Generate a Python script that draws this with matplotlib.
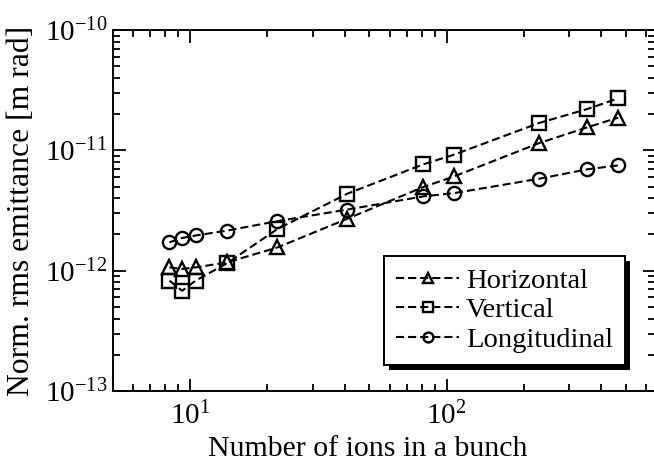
import matplotlib
matplotlib.use("Agg")
import matplotlib.pyplot as plt
from matplotlib.patches import Rectangle
from matplotlib.transforms import IdentityTransform
from matplotlib.ticker import FixedLocator, LogLocator, NullFormatter
import numpy as np

# ---- data ----
n_ions = [8.3, 9.3, 10.5, 13.9, 21.9, 41, 81, 107, 230, 353, 467]
horizontal = [1.065e-12, 1.033e-12, 1.065e-12, 1.17e-12, 1.56e-12, 2.70e-12,
              4.95e-12, 6.07e-12, 1.15e-11, 1.55e-11, 1.87e-11]
vertical = [8.26e-13, 6.81e-13, 8.26e-13, 1.15e-12, 2.22e-12, 4.36e-12,
            7.64e-12, 9.21e-12, 1.69e-11, 2.20e-11, 2.70e-11]
longitudinal = [1.72e-12, 1.87e-12, 1.96e-12, 2.15e-12, 2.58e-12, 3.22e-12,
                4.14e-12, 4.41e-12, 5.81e-12, 6.95e-12, 7.5e-12]
series_labels = ["Horizontal", "Vertical", "Longitudinal"]
xlabel = "Number of ions in a bunch"
ylabel = "Norm. rms emittance [m rad]"
x_major = [10, 100]
y_major = [1e-13, 1e-12, 1e-11, 1e-10]

plt.rcParams['font.family'] = ['Liberation Serif', 'DejaVu Serif']
plt.rcParams['mathtext.fontset'] = 'stix'
plt.rcParams['axes.unicode_minus'] = False

W, H = 654, 461
fig = plt.figure(figsize=(W / 100, H / 100), dpi=100)
ax = fig.add_axes([113 / W, 70 / H, (655 - 113) / W, (391 - 30) / H])

ls = (0, (3.9, 1.9))
common = dict(color='black', linestyle=ls, linewidth=1.5, markerfacecolor='none',
              markeredgecolor='black', markeredgewidth=1.7)
ax.plot(n_ions, horizontal, marker='^', markersize=10, label=series_labels[0], **common)
ax.plot(n_ions, vertical, marker='s', markersize=9.5, label=series_labels[1], **common)
ax.plot(n_ions, longitudinal, marker='o', markersize=9.5, label=series_labels[2], **common)

ax.set_xscale('log')
ax.set_yscale('log')
ax.set_xlim(5, 650)
ax.set_ylim(1e-13, 1e-10)
ax.xaxis.set_major_locator(FixedLocator(x_major))
ax.yaxis.set_major_locator(FixedLocator(y_major))
ax.xaxis.set_minor_locator(LogLocator(base=10, subs=np.arange(2, 10)))
ax.yaxis.set_minor_locator(LogLocator(base=10, subs=np.arange(2, 10)))
ax.xaxis.set_minor_formatter(NullFormatter())
ax.yaxis.set_minor_formatter(NullFormatter())

for s in ax.spines.values():
    s.set_linewidth(1.4)
ax.tick_params(which='both', direction='in', top=True, right=True, width=1.3)
ax.tick_params(which='major', length=9, labelsize=21, pad=4)
ax.tick_params(which='minor', length=5)
ax.tick_params(axis='x', which='major', pad=8)

ax.set_xlabel(xlabel, fontsize=21.5)
ax.set_ylabel(ylabel, fontsize=22.8)
ax.xaxis.set_label_coords((368 - 113) / (655 - 113), -0.125)
ax.yaxis.set_label_coords(-0.142, 0.5)

leg = ax.legend(loc='lower right', bbox_to_anchor=(625 / W, (H - 365) / H),
                bbox_transform=fig.transFigure, fontsize=20.5, frameon=True,
                fancybox=False, edgecolor='black', framealpha=1,
                handlelength=2.2, handletextpad=0.25, labelspacing=0.13,
                borderpad=0.42, borderaxespad=0, markerscale=0.75)
leg.get_frame().set_linewidth(1.4)

fig.canvas.draw()
bb = leg.get_window_extent()
off = 5
shadow = Rectangle((bb.x0 + off, bb.y0 - off), bb.width, bb.height,
                   transform=IdentityTransform(), facecolor='black',
                   edgecolor='none', zorder=4.9, clip_on=False)
ax.add_artist(shadow)

fig.savefig("out.png", dpi=100)
